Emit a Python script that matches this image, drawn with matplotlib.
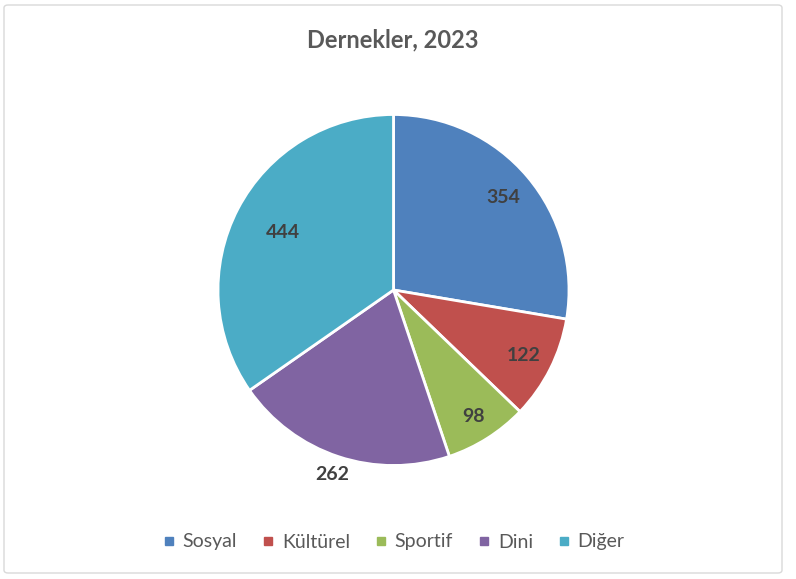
import numpy as np
import matplotlib.pyplot as plt
from matplotlib.patches import FancyBboxPatch

categories = ['Sosyal', 'Kültürel', 'Sportif', 'Dini', 'Diğer']
values = [354, 122, 98, 262, 444]
colors = ['#4F81BD', '#C0504D', '#9BBB59', '#8064A2', '#4BACC6']
label_dist = [0.82, 0.83, 0.855, 1.11, 0.71]

plt.rcParams['font.family'] = ['Lato', 'DejaVu Sans']

fig = plt.figure(figsize=(7.96, 5.79), dpi=100)

# chart border
fig.patches.append(FancyBboxPatch((4 / 796, 6 / 579), 778 / 796, 568 / 579,
                                  boxstyle='round,pad=0,rounding_size=0.005',
                                  transform=fig.transFigure, fill=False,
                                  edgecolor='#D9D9D9', linewidth=1))

r_px = 175.5
cx, cy = 393.5, 579 - 290
w = r_px * 1.25 * 2
ax = fig.add_axes([(cx - w / 2) / 796, (cy - w / 2) / 579, w / 796, w / 579])
wedges, _ = ax.pie(values, colors=colors, startangle=90, counterclock=False,
                   wedgeprops=dict(edgecolor='white', linewidth=2))
ax.set_xlim(-1.25, 1.25)
ax.set_ylim(-1.25, 1.25)
ax.set_aspect('equal')

total = sum(values)
start = 90.0
for v, d in zip(values, label_dist):
    span = v / total * 360
    mid = np.deg2rad(start - span / 2)
    ax.text(d * np.cos(mid), d * np.sin(mid), str(v), ha='center', va='center',
            fontsize=14, fontweight='bold', color='#404040')
    start -= span

fig.text(393 / 796, 1 - 40 / 579, 'Dernekler, 2023', ha='center', va='center',
         fontsize=17, fontweight='bold', color='#595959')

handles = [plt.Line2D([], [], marker='s', linestyle='', markersize=6,
                      markerfacecolor=c, markeredgecolor=c) for c in colors]
fig.legend(handles, categories, loc='center', ncol=5,
           bbox_to_anchor=(394 / 796, 1 - 542 / 579), frameon=False,
           fontsize=14, labelcolor='#595959', handlelength=0.6,
           handletextpad=0.4, columnspacing=1.3)

fig.savefig('out.png', dpi=100)
